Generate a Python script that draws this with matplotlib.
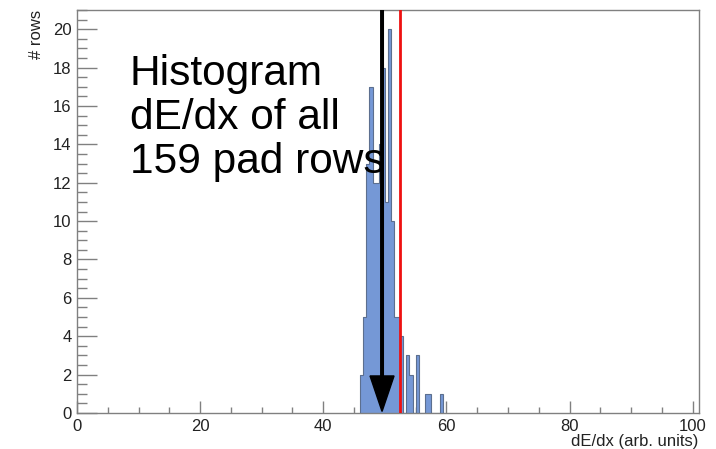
import numpy as np
import matplotlib
matplotlib.use("Agg")
import matplotlib.pyplot as plt
from matplotlib.ticker import MultipleLocator

# ---- data ----
bin_width = 0.5
bin_start = 46.0
counts = [2, 5, 13, 17, 12, 12, 14, 18, 11, 20, 10, 5, 5, 4,
          0, 3, 2, 0, 3, 0, 0, 1, 1, 0, 0, 0, 1]
mean_value = 52.45      # red line
arrow_value = 49.55     # black arrow (most probable value)
note_lines = ["Histogram", "dE/dx of all", "159 pad rows"]
x_label = "dE/dx (arb. units)"
y_label = "# rows"
x_max = 101
y_max = 21

edges = bin_start + bin_width * np.arange(len(counts) + 1)

plt.rcParams['font.family'] = ['Liberation Sans', 'DejaVu Sans']

fig = plt.figure(figsize=(7.16, 4.49), dpi=100)
ax = fig.add_axes([0.1075, 0.0802, 0.976 - 0.1075, 0.9777 - 0.0802])

fill_col = '#7598d6'
edge_col = '#5c6f8f'
ax.stairs(counts, edges, fill=True, color=fill_col, zorder=2)
ax.stairs(counts, edges, color=edge_col, linewidth=0.8, zorder=3)

ax.axvline(mean_value, color='#ee1111', linewidth=2.0, zorder=4)

ax.arrow(arrow_value, y_max, 0, -(y_max - 0.08), width=0.42, head_width=3.9,
         head_length=1.85, length_includes_head=True, color='black',
         zorder=5)

ax.text(8.6, 18.7, "\n".join(note_lines), fontsize=30.5, ha='left', va='top',
        linespacing=1.13, color='black', zorder=6)

ax.set_xlim(0, x_max)
ax.set_ylim(0, y_max)

ax.xaxis.set_major_locator(MultipleLocator(20))
ax.xaxis.set_minor_locator(MultipleLocator(5))
ax.yaxis.set_major_locator(MultipleLocator(2))
ax.yaxis.set_minor_locator(MultipleLocator(0.5))

grey = '#808080'
for s in ax.spines.values():
    s.set_color(grey)
    s.set_linewidth(1.0)

ax.tick_params(axis='x', which='major', direction='in', length=8.4, width=1.0,
               color=grey, labelsize=12, pad=4, labelcolor='#222222')
ax.tick_params(axis='x', which='minor', direction='in', length=4.2, width=1.0,
               color=grey)
ax.tick_params(axis='y', which='major', direction='in', length=14.2, width=1.0,
               color=grey, labelsize=12, pad=4, labelcolor='#222222')
ax.tick_params(axis='y', which='minor', direction='in', length=7.2, width=1.0,
               color=grey)

ax.set_xlabel(x_label, loc='right', fontsize=12, labelpad=0, color='#222222')
ax.set_ylabel(y_label, loc='top', fontsize=12, labelpad=6, color='#222222')

fig.savefig("out.png", dpi=100)
